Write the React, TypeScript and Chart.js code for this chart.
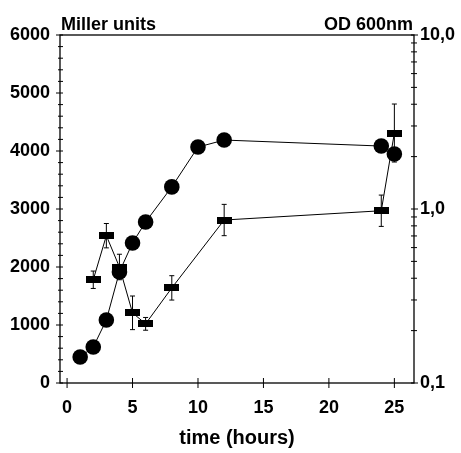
import React, { useEffect, useRef } from "react";
import { Chart, registerables } from "chart.js";

Chart.register(...registerables);

// Miller units (squares, left axis) with error bars
const squareTimes = [2, 3, 4, 5, 6, 8, 12, 24, 25];
const millerUnits = [1780, 2540, 2000, 1210, 1020, 1640, 2810, 2970, 4310];
const millerErr = [150, 210, 220, 290, 110, 210, 270, 270, 500];

// OD 600nm (circles, right log axis)
const circleTimes = [1, 2, 3, 4, 5, 6, 8, 10, 12, 24, 25];
const od600 = [0.141, 0.161, 0.23, 0.435, 0.638, 0.842, 1.34, 2.27, 2.49, 2.3, 2.07];

const xTicks = [0, 5, 10, 15, 20, 25];
const leftMajor = [0, 1000, 2000, 3000, 4000, 5000, 6000];
const rightTicks = [0.1, 0.2, 0.3, 0.4, 0.5, 0.6, 0.7, 0.8, 0.9, 1, 2, 3, 4, 5, 6, 7, 8, 9, 10];
const rightLabels: Record<string, string> = { "0.1": "0,1", "1": "1,0", "10": "10,0" };

const FONT = "'Liberation Sans', Arial, sans-serif";

function makeRect(w: number, h: number) {
  const c = document.createElement("canvas");
  c.width = w;
  c.height = h;
  const ctx = c.getContext("2d")!;
  ctx.fillStyle = "#000";
  ctx.fillRect(0, 0, w, h);
  return c;
}

const frameAndTicks = {
  id: "frameAndTicks",
  afterDraw(chart: any) {
    const { ctx, chartArea: a, scales } = chart;
    ctx.save();
    ctx.strokeStyle = "#000";
    ctx.lineWidth = 1.3;
    ctx.strokeRect(a.left, a.top, a.right - a.left, a.bottom - a.top);
    ctx.lineWidth = 1;
    ctx.beginPath();
    for (const t of scales.x.ticks) {
      const px = scales.x.getPixelForValue(t.value);
      ctx.moveTo(px, a.bottom - 5);
      ctx.lineTo(px, a.bottom + 5);
    }
    for (const t of scales.y.ticks) {
      const py = scales.y.getPixelForValue(t.value);
      const major = t.value % 1000 === 0;
      ctx.moveTo(a.left - (major ? 4 : 2), py);
      ctx.lineTo(a.left + 3, py);
    }
    for (const t of scales.y2.ticks) {
      const py = scales.y2.getPixelForValue(t.value);
      const major = [0.1, 1, 10].includes(t.value);
      ctx.moveTo(a.right - 3, py);
      ctx.lineTo(a.right + (major ? 4 : 3), py);
    }
    ctx.stroke();
    ctx.fillStyle = "#000";
    ctx.font = `bold 18px ${FONT}`;
    ctx.textBaseline = "alphabetic";
    ctx.textAlign = "left";
    ctx.fillText("Miller units", a.left + 1, a.top - 5);
    ctx.textAlign = "right";
    ctx.fillText("OD 600nm", a.right - 1, a.top - 5);
    ctx.restore();
  },
};

const errorBars = {
  id: "errorBars",
  beforeDatasetsDraw(chart: any) {
    const { ctx, scales } = chart;
    ctx.save();
    ctx.strokeStyle = "#000";
    ctx.lineWidth = 1;
    ctx.beginPath();
    squareTimes.forEach((t, i) => {
      const px = scales.x.getPixelForValue(t);
      const top = scales.y.getPixelForValue(millerUnits[i] + millerErr[i]);
      const bot = scales.y.getPixelForValue(millerUnits[i] - millerErr[i]);
      ctx.moveTo(px, top);
      ctx.lineTo(px, bot);
      ctx.moveTo(px - 2.5, top);
      ctx.lineTo(px + 2.5, top);
      ctx.moveTo(px - 2.5, bot);
      ctx.lineTo(px + 2.5, bot);
    });
    ctx.stroke();
    ctx.restore();
  },
};

export default function App() {
  const ref = useRef<HTMLCanvasElement | null>(null);
  useEffect(() => {
    document.body.style.margin = "0";
    const rect = makeRect(15, 7);
    const chart = new Chart(ref.current!, {
      type: "line",
      data: {
        datasets: [
          {
            label: "Miller units",
            data: squareTimes.map((t, i) => ({ x: t, y: millerUnits[i] })),
            yAxisID: "y",
            borderColor: "#000",
            borderWidth: 1,
            backgroundColor: "#000",
            pointStyle: rect as any,
            pointRadius: 7,
            tension: 0,
          },
          {
            label: "OD 600nm",
            data: circleTimes.map((t, i) => ({ x: t, y: od600[i] })),
            yAxisID: "y2",
            borderColor: "#000",
            borderWidth: 1,
            backgroundColor: "#000",
            pointStyle: "circle",
            pointRadius: 7.8,
            pointBorderWidth: 0,
            tension: 0,
          },
        ],
      },
      options: {
        animation: false,
        responsive: true,
        maintainAspectRatio: false,
        layout: { padding: { top: 35, left: 0, right: 0, bottom: 0 } },
        plugins: { legend: { display: false }, tooltip: { enabled: false } },
        scales: {
          x: {
            type: "linear",
            min: -0.54,
            max: 26.5,
            afterBuildTicks: (s: any) => {
              s.ticks = xTicks.map((v) => ({ value: v }));
            },
            afterFit: (s: any) => {
              s.height = 70;
            },
            grid: { display: false, drawTicks: false },
            border: { display: false },
            ticks: {
              color: "#000",
              font: { family: FONT, size: 18, weight: "bold" },
              padding: 14,
              autoSkip: false,
              maxRotation: 0,
            },
            title: {
              display: true,
              text: "time (hours)",
              color: "#000",
              font: { family: FONT, size: 20, weight: "bold" },
              padding: { top: 7, bottom: 3 },
            },
          },
          y: {
            type: "linear",
            position: "left",
            min: 0,
            max: 6000,
            afterBuildTicks: (s: any) => {
              const arr = [];
              for (let v = 0; v <= 6000; v += 200) arr.push({ value: v });
              s.ticks = arr;
            },
            afterFit: (s: any) => {
              s.width = 60;
            },
            grid: { display: false, drawTicks: false },
            border: { display: false },
            ticks: {
              color: "#000",
              font: { family: FONT, size: 18, weight: "bold" },
              padding: 10,
              autoSkip: false,
              callback: (v: any) => (leftMajor.includes(Number(v)) ? String(v) : ""),
            },
          },
          y2: {
            type: "logarithmic",
            position: "right",
            min: 0.1,
            max: 10,
            afterBuildTicks: (s: any) => {
              s.ticks = rightTicks.map((v) => ({ value: v }));
            },
            afterFit: (s: any) => {
              s.width = 47;
            },
            grid: { display: false, drawTicks: false },
            border: { display: false },
            ticks: {
              color: "#000",
              font: { family: FONT, size: 18, weight: "bold" },
              padding: 6,
              autoSkip: false,
              callback: (v: any) => rightLabels[String(Number(v))] ?? "",
            },
          },
        },
      },
      plugins: [errorBars, frameAndTicks],
    });
    return () => chart.destroy();
  }, []);
  return (
    <div style={{ position: "absolute", left: 0, top: 0, width: 461, height: 453 }}>
      <canvas ref={ref} />
    </div>
  );
}
